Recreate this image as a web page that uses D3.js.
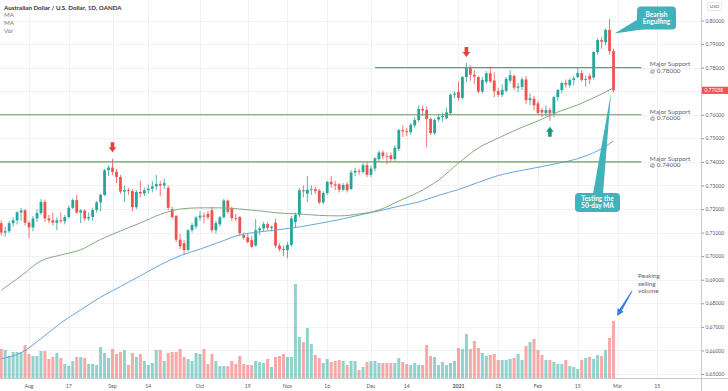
<!DOCTYPE html>
<html>
<head>
<meta charset="utf-8">
<script src="https://cdn.jsdelivr.net/npm/d3@7"></script>
<style>
  body { margin: 0; background: #fff; }
  svg { display: block; font-family: Lato, "Open Sans", sans-serif; }
</style>
</head>
<body>
<div id="chart"></div>
<script>
// ---- data (AUD/USD daily, OANDA) ----
var dates = [
  "2020-07-23","2020-07-24","2020-07-27","2020-07-28","2020-07-29","2020-07-30","2020-07-31",
  "2020-08-03","2020-08-04","2020-08-05","2020-08-06","2020-08-07",
  "2020-08-10","2020-08-11","2020-08-12","2020-08-13","2020-08-14",
  "2020-08-17","2020-08-18","2020-08-19","2020-08-20","2020-08-21",
  "2020-08-24","2020-08-25","2020-08-26","2020-08-27","2020-08-28",
  "2020-08-31","2020-09-01","2020-09-02","2020-09-03","2020-09-04",
  "2020-09-07","2020-09-08","2020-09-09","2020-09-10","2020-09-11",
  "2020-09-14","2020-09-15","2020-09-16","2020-09-17","2020-09-18",
  "2020-09-21","2020-09-22","2020-09-23","2020-09-24","2020-09-25",
  "2020-09-28","2020-09-29","2020-09-30","2020-10-01","2020-10-02",
  "2020-10-05","2020-10-06","2020-10-07","2020-10-08","2020-10-09",
  "2020-10-12","2020-10-13","2020-10-14","2020-10-15","2020-10-16",
  "2020-10-19","2020-10-20","2020-10-21","2020-10-22","2020-10-23",
  "2020-10-26","2020-10-27","2020-10-28","2020-10-29","2020-10-30",
  "2020-11-02","2020-11-03","2020-11-04","2020-11-05","2020-11-06",
  "2020-11-09","2020-11-10","2020-11-11","2020-11-12","2020-11-13",
  "2020-11-16","2020-11-17","2020-11-18","2020-11-19","2020-11-20",
  "2020-11-23","2020-11-24","2020-11-25","2020-11-26","2020-11-27",
  "2020-11-30","2020-12-01","2020-12-02","2020-12-03","2020-12-04",
  "2020-12-07","2020-12-08","2020-12-09","2020-12-10","2020-12-11",
  "2020-12-14","2020-12-15","2020-12-16","2020-12-17","2020-12-18",
  "2020-12-21","2020-12-22","2020-12-23","2020-12-24",
  "2020-12-28","2020-12-29","2020-12-30","2020-12-31",
  "2021-01-04","2021-01-05","2021-01-06","2021-01-07","2021-01-08",
  "2021-01-11","2021-01-12","2021-01-13","2021-01-14","2021-01-15",
  "2021-01-18","2021-01-19","2021-01-20","2021-01-21","2021-01-22",
  "2021-01-25","2021-01-26","2021-01-27","2021-01-28","2021-01-29",
  "2021-02-01","2021-02-02","2021-02-03","2021-02-04","2021-02-05",
  "2021-02-08","2021-02-09","2021-02-10","2021-02-11","2021-02-12",
  "2021-02-15","2021-02-16","2021-02-17","2021-02-18","2021-02-19",
  "2021-02-22","2021-02-23","2021-02-24","2021-02-25","2021-02-26"
];

var open = [
  0.7140,0.7100,0.7106,0.7140,0.7152,0.7186,0.7194,
  0.7142,0.7122,0.7160,0.7183,0.7230,
  0.7160,0.7152,0.7142,0.7152,0.7148,
  0.7166,0.7205,0.7238,0.7185,0.7194,
  0.7160,0.7166,0.7196,0.7228,0.7260,
  0.7365,0.7376,0.7358,0.7336,0.7274,
  0.7280,0.7276,0.7208,0.7272,0.7266,
  0.7280,0.7286,0.7296,0.7306,0.7300,
  0.7290,0.7200,0.7170,0.7070,0.7055,
  0.7026,0.7110,0.7126,0.7164,0.7172,
  0.7180,0.7195,0.7110,0.7135,0.7165,
  0.7236,0.7205,0.7162,0.7166,0.7090,
  0.7080,0.7068,0.7045,0.7110,0.7118,
  0.7136,0.7120,0.7142,0.7045,0.7030,
  0.7026,0.7048,0.7145,0.7175,0.7280,
  0.7265,0.7282,0.7284,0.7278,0.7228,
  0.7268,0.7315,0.7305,0.7305,0.7282,
  0.7305,0.7285,0.7355,0.7362,0.7358,
  0.7386,0.7345,0.7372,0.7412,0.7440,
  0.7425,0.7428,0.7412,0.7455,0.7535,
  0.7530,0.7526,0.7555,0.7578,0.7625,
  0.7620,0.7582,0.7522,0.7580,
  0.7590,0.7585,0.7607,0.7685,
  0.7697,0.7672,0.7760,0.7798,0.7770,
  0.7760,0.7698,0.7740,0.7776,0.7745,
  0.7700,0.7685,0.7702,0.7745,0.7765,
  0.7715,0.7718,0.7750,0.7662,0.7668,
  0.7648,0.7620,0.7608,0.7620,0.7606,
  0.7675,0.7705,0.7735,0.7725,0.7748,
  0.7760,0.7777,0.7748,0.7765,0.7758,
  0.7866,0.7917,0.7908,0.7960,0.7870
];

var high = [
  0.7152,0.7125,0.7150,0.7165,0.7190,0.7205,0.7200,
  0.7150,0.7170,0.7200,0.7242,0.7240,
  0.7175,0.7185,0.7165,0.7185,0.7175,
  0.7215,0.7245,0.7260,0.7200,0.7198,
  0.7185,0.7205,0.7235,0.7265,0.7370,
  0.7385,0.7413,0.7370,0.7345,0.7300,
  0.7290,0.7285,0.7280,0.7320,0.7290,
  0.7305,0.7320,0.7345,0.7320,0.7330,
  0.7300,0.7210,0.7175,0.7095,0.7068,
  0.7115,0.7140,0.7170,0.7190,0.7185,
  0.7192,0.7209,0.7150,0.7170,0.7243,
  0.7240,0.7210,0.7180,0.7170,0.7100,
  0.7095,0.7085,0.7158,0.7125,0.7145,
  0.7145,0.7130,0.7158,0.7055,0.7045,
  0.7060,0.7170,0.7185,0.7290,0.7300,
  0.7340,0.7300,0.7295,0.7285,0.7275,
  0.7320,0.7340,0.7320,0.7310,0.7310,
  0.7315,0.7365,0.7375,0.7370,0.7395,
  0.7400,0.7385,0.7420,0.7448,0.7450,
  0.7440,0.7440,0.7470,0.7540,0.7555,
  0.7545,0.7565,0.7590,0.7640,0.7640,
  0.7635,0.7590,0.7585,0.7605,
  0.7610,0.7630,0.7690,0.7700,
  0.7742,0.7765,0.7820,0.7810,0.7790,
  0.7765,0.7760,0.7785,0.7805,0.7780,
  0.7715,0.7730,0.7760,0.7790,0.7770,
  0.7735,0.7760,0.7765,0.7690,0.7680,
  0.7660,0.7630,0.7640,0.7630,0.7680,
  0.7710,0.7740,0.7750,0.7755,0.7765,
  0.7800,0.7790,0.7765,0.7775,0.7870,
  0.7925,0.7930,0.7965,0.8007,0.7880
];

var low = [
  0.7088,0.7082,0.7098,0.7125,0.7135,0.7150,0.7130,
  0.7076,0.7105,0.7145,0.7175,0.7145,
  0.7140,0.7130,0.7110,0.7140,0.7135,
  0.7160,0.7200,0.7180,0.7140,0.7150,
  0.7150,0.7150,0.7185,0.7190,0.7255,
  0.7340,0.7345,0.7310,0.7265,0.7230,
  0.7260,0.7190,0.7200,0.7250,0.7255,
  0.7265,0.7270,0.7280,0.7255,0.7285,
  0.7195,0.7160,0.7060,0.7030,0.7005,
  0.7020,0.7100,0.7115,0.7150,0.7140,
  0.7155,0.7100,0.7095,0.7125,0.7160,
  0.7180,0.7150,0.7150,0.7085,0.7070,
  0.7055,0.7035,0.7040,0.7090,0.7105,
  0.7110,0.7105,0.7035,0.7020,0.7000,
  0.6991,0.7040,0.7120,0.7165,0.7250,
  0.7230,0.7260,0.7265,0.7220,0.7220,
  0.7260,0.7290,0.7280,0.7270,0.7275,
  0.7270,0.7280,0.7340,0.7345,0.7350,
  0.7335,0.7335,0.7360,0.7400,0.7410,
  0.7390,0.7400,0.7405,0.7445,0.7505,
  0.7510,0.7515,0.7545,0.7570,0.7595,
  0.7462,0.7515,0.7515,0.7570,
  0.7570,0.7580,0.7600,0.7670,
  0.7660,0.7665,0.7740,0.7745,0.7730,
  0.7690,0.7690,0.7730,0.7735,0.7675,
  0.7675,0.7675,0.7695,0.7735,0.7705,
  0.7695,0.7705,0.7645,0.7640,0.7620,
  0.7600,0.7590,0.7595,0.7575,0.7590,
  0.7660,0.7690,0.7715,0.7715,0.7725,
  0.7755,0.7740,0.7720,0.7730,0.7750,
  0.7855,0.7880,0.7895,0.7855,0.7695
];

var close = [
  0.7100,0.7106,0.7140,0.7152,0.7186,0.7194,0.7142,
  0.7122,0.7160,0.7183,0.7230,0.7160,
  0.7152,0.7142,0.7152,0.7148,0.7166,
  0.7205,0.7238,0.7185,0.7194,0.7160,
  0.7166,0.7196,0.7228,0.7260,0.7365,
  0.7376,0.7358,0.7336,0.7274,0.7280,
  0.7276,0.7208,0.7272,0.7266,0.7280,
  0.7286,0.7296,0.7306,0.7300,0.7310,
  0.7205,0.7166,0.7070,0.7042,0.7026,
  0.7110,0.7132,0.7164,0.7172,0.7168,
  0.7165,0.7110,0.7140,0.7165,0.7236,
  0.7188,0.7162,0.7158,0.7098,0.7078,
  0.7060,0.7040,0.7110,0.7118,0.7136,
  0.7120,0.7125,0.7045,0.7030,0.7026,
  0.7048,0.7160,0.7175,0.7280,0.7275,
  0.7282,0.7284,0.7276,0.7228,0.7268,
  0.7315,0.7305,0.7300,0.7282,0.7302,
  0.7280,0.7355,0.7362,0.7358,0.7386,
  0.7345,0.7372,0.7415,0.7440,0.7425,
  0.7422,0.7412,0.7460,0.7535,0.7530,
  0.7526,0.7557,0.7578,0.7625,0.7618,
  0.7582,0.7522,0.7578,0.7590,
  0.7595,0.7610,0.7685,0.7690,
  0.7672,0.7760,0.7798,0.7770,0.7762,
  0.7698,0.7748,0.7776,0.7742,0.7700,
  0.7685,0.7706,0.7752,0.7768,0.7715,
  0.7720,0.7750,0.7662,0.7670,0.7640,
  0.7608,0.7610,0.7620,0.7606,0.7675,
  0.7705,0.7735,0.7728,0.7748,0.7755,
  0.7777,0.7748,0.7752,0.7750,0.7866,
  0.7917,0.7910,0.7960,0.7870,0.77038
];

// volume (thousand ticks)
var volume = [
  29,28,22,26,26,26,33,
  24,22,22,27,27,
  19,21,25,20,14,
  12,17,21,21,20,
  14,14,13,31,25,
  20,29,24,26,28,
  13,25,21,24,17,
  13,15,28,28,17,
  25,26,26,29,21,
  19,17,25,24,29,
  14,24,17,12,12,
  12,17,14,22,14,
  13,13,17,16,15,
  19,11,21,22,24,
  21,21,94,41,36,
  50,34,23,20,15,
  19,16,17,18,17,
  13,17,17,8,11,
  16,17,17,15,15,
  15,15,15,20,16,
  14,13,15,13,13,
  33,22,21,13,
  16,13,15,17,
  30,29,44,29,37,
  30,25,22,23,24,
  18,18,18,19,20,
  24,18,32,36,39,
  28,23,18,18,16,
  14,14,18,12,11,
  9,18,20,21,19,
  23,22,28,40,57
];

var maIndex = [0,5,10,15,20,25,30,35,40,45,50,55,60,65,70,75,80,85,90,95,100,105,110,115,120,125,130,135,140,145,150,154];
var ma50 = [0.6855,0.6916,0.6980,0.7005,0.7027,0.7071,0.7107,0.7141,0.7177,0.7200,0.7205,0.7205,0.7200,0.7192,0.7183,0.7179,
            0.7173,0.7171,0.7179,0.7196,0.7234,0.7272,0.7323,0.7395,0.7459,0.7501,0.7540,0.7574,0.7612,0.7642,0.7680,0.7714];
var ma100 = [0.6565,0.6590,0.6650,0.6717,0.6772,0.6826,0.6871,0.6917,0.6963,0.7002,0.7030,0.7060,0.7090,0.7103,0.7113,0.7124,
             0.7139,0.7155,0.7174,0.7192,0.7212,0.7230,0.7258,0.7283,0.7313,0.7342,0.7361,0.7377,0.7394,0.7414,0.7447,0.7489];

var priceTicks = [0.65,0.66,0.67,0.68,0.69,0.70,0.71,0.72,0.73,0.74,0.75,0.76,0.77,0.78,0.79,0.80];
var timeTicks = [
  ["2020-08-03","Aug"],["2020-08-17","17"],["2020-09-01","Sep"],["2020-09-14","14"],
  ["2020-10-01","Oct"],["2020-10-19","19"],["2020-11-02","Nov"],["2020-11-16","16"],
  ["2020-12-01","Dec"],["2020-12-14","14"],["2021-01-04","2021"],["2021-01-18","18"],
  ["2021-02-01","Feb"],["2021-02-15","15"],["2021-03-01","Mar"],["2021-03-15","15"]
];

var supports = [
  {level: 0.78, from: "2020-12-02", to: "2021-03-09"},
  {level: 0.76, from: null, to: "2021-03-09"},
  {level: 0.74, from: null, to: "2021-03-09"}
];

// ---- layout ----
var W = 728, H = 391,
    plotRight = 701, plotBottom = 378,
    upColor = "#26a69a", downColor = "#ef5350",
    textGrey = "#5a6470";

// bar index for a date; dates after the last bar count forward in weekdays
function barIndex(s) {
  var i = dates.indexOf(s);
  if (i >= 0) return i;
  var d = new Date(dates[dates.length - 1] + "T00:00:00Z"),
      t = new Date(s + "T00:00:00Z"),
      n = dates.length - 1;
  while (d < t) {
    d.setUTCDate(d.getUTCDate() + 1);
    var wd = d.getUTCDay();
    if (wd !== 0 && wd !== 6) n++;
  }
  return n;
}

var x = d3.scaleLinear().domain([-0.3, 176]).range([0, plotRight]);
var y = d3.scaleLinear().domain([0.6483, 0.8087]).range([plotBottom, 0]);
var yVol = d3.scaleLinear().domain([0, 94]).range([plotBottom, plotBottom - 94]);

var bars = dates.map(function(d, i) {
  return {i: i, date: d, o: open[i], h: high[i], l: low[i], c: close[i], v: volume[i]};
});

var svg = d3.select("#chart").append("svg")
    .attr("width", W)
    .attr("height", H);

svg.append("rect").attr("width", W).attr("height", H).attr("fill", "#fff");

// grid
var grid = svg.append("g").attr("stroke", "#f0f2f7").attr("stroke-width", 1);
grid.selectAll(".hg").data(priceTicks).enter().append("line")
    .attr("x1", 0).attr("x2", plotRight)
    .attr("y1", function(d) { return Math.round(y(d)) + 0.5; })
    .attr("y2", function(d) { return Math.round(y(d)) + 0.5; });
grid.selectAll(".vg").data(timeTicks).enter().append("line")
    .attr("x1", function(d) { return Math.round(x(barIndex(d[0]))) + 0.5; })
    .attr("x2", function(d) { return Math.round(x(barIndex(d[0]))) + 0.5; })
    .attr("y1", 0).attr("y2", plotBottom);

// volume
svg.append("g").selectAll("rect").data(bars).enter().append("rect")
    .attr("x", function(d) { return x(d.i) - 1.5; })
    .attr("width", 3)
    .attr("y", function(d) { return yVol(d.v); })
    .attr("height", function(d) { return plotBottom - yVol(d.v); })
    .attr("fill", function(d) { return d.c >= d.o ? upColor : downColor; })
    .attr("fill-opacity", 0.5);

// candles
var candle = svg.append("g").selectAll("g").data(bars).enter().append("g")
    .attr("fill", function(d) { return d.c >= d.o ? upColor : downColor; })
    .attr("stroke", function(d) { return d.c >= d.o ? upColor : downColor; });

candle.append("line")
    .attr("x1", function(d) { return x(d.i); })
    .attr("x2", function(d) { return x(d.i); })
    .attr("y1", function(d) { return y(d.h); })
    .attr("y2", function(d) { return y(d.l); })
    .attr("stroke-width", 0.8);

candle.append("rect")
    .attr("stroke", "none")
    .attr("x", function(d) { return x(d.i) - 1.4; })
    .attr("width", 2.8)
    .attr("y", function(d) { return y(Math.max(d.o, d.c)); })
    .attr("height", function(d) { return Math.max(0.8, Math.abs(y(d.o) - y(d.c))); });

// moving averages
var maLine = d3.line()
    .x(function(d) { return x(d[0]); })
    .y(function(d) { return y(d[1]); })
    .curve(d3.curveMonotoneX);

svg.append("path")
    .attr("d", maLine(maIndex.map(function(k, j) { return [k, ma100[j]]; })))
    .attr("fill", "none").attr("stroke", "#64a8dc").attr("stroke-width", 1);

svg.append("path")
    .attr("d", maLine(maIndex.map(function(k, j) { return [k, ma50[j]]; })))
    .attr("fill", "none").attr("stroke", "#86a97e").attr("stroke-width", 1);

// support levels
var sup = svg.append("g").selectAll("g").data(supports).enter().append("g");
sup.append("line")
    .attr("x1", function(d) { return d.from ? x(barIndex(d.from)) : 0; })
    .attr("x2", function(d) { return x(barIndex(d.to)); })
    .attr("y1", function(d) { return y(d.level); })
    .attr("y2", function(d) { return y(d.level); })
    .attr("stroke", "#6d9c58").attr("stroke-width", 1.1);
sup.append("text")
    .attr("x", function(d) { return x(barIndex(d.to)) + 8.5; })
    .attr("y", function(d) { return y(d.level) - 3.5; })
    .attr("dy", "0.35em")
    .attr("font-size", 6.4).attr("fill", textGrey)
    .text("Major Support");
sup.append("text")
    .attr("x", function(d) { return x(barIndex(d.to)) + 8.5; })
    .attr("y", function(d) { return y(d.level) + 3; })
    .attr("dy", "0.35em")
    .attr("font-size", 6.4).attr("fill", textGrey)
    .text(function(d) { return "@ " + d3.format(".5f")(d.level); });

// axes
svg.append("line")
    .attr("x1", plotRight + 0.5).attr("x2", plotRight + 0.5)
    .attr("y1", 0).attr("y2", H)
    .attr("stroke", "#c8cbd2");
svg.append("line")
    .attr("x1", 0).attr("x2", W)
    .attr("y1", plotBottom + 0.5).attr("y2", plotBottom + 0.5)
    .attr("stroke", "#c8cbd2");

var yAxis = d3.axisRight(y)
    .tickValues(priceTicks)
    .tickFormat(d3.format(".5f"))
    .tickSize(2.5)
    .tickPadding(1.5);
var ya = svg.append("g")
    .attr("transform", "translate(" + (plotRight + 0.5) + ",0)")
    .call(yAxis);
ya.select(".domain").remove();
ya.selectAll("line").attr("stroke", "#9598a1");
ya.selectAll("text").attr("font-size", 5).attr("fill", "#555a63").attr("font-family", "Lato, sans-serif");

svg.append("g").selectAll("text").data(timeTicks).enter().append("text")
    .attr("x", function(d) { return x(barIndex(d[0])); })
    .attr("y", 386)
    .attr("dy", "0.35em")
    .attr("text-anchor", "middle")
    .attr("font-size", 5.2)
    .attr("font-weight", function(d) { return d[1] === "2021" ? 700 : 400; })
    .attr("fill", "#555a63")
    .text(function(d) { return d[1]; });

// currency tag and last price tag
svg.append("rect").attr("x", 707.5).attr("y", 2.5).attr("width", 14).attr("height", 8)
    .attr("rx", 1).attr("fill", "#fff").attr("stroke", "#d6d8de").attr("stroke-width", 0.6);
svg.append("text").attr("x", 714.5).attr("y", 6.5).attr("dy", "0.35em")
    .attr("text-anchor", "middle").attr("font-size", 4.6).attr("fill", "#555a63").text("USD");

var last = bars[bars.length - 1];
svg.append("rect").attr("x", plotRight + 1).attr("y", y(last.c) - 3.6)
    .attr("width", W - plotRight - 1).attr("height", 7.2).attr("fill", downColor);
svg.append("text").attr("x", plotRight + 3.5).attr("y", y(last.c)).attr("dy", "0.35em")
    .attr("font-size", 5).attr("fill", "#fff").text(d3.format(".5f")(last.c));

// legend
var legend = svg.append("g").attr("font-size", 6.2);
legend.append("text").attr("x", 4).attr("y", 7.5).attr("dy", "0.35em")
    .attr("fill", "#333").attr("font-weight", 700)
    .text("Australian Dollar / U.S. Dollar, 1D, OANDA");
["MA", "MA", "Vol"].forEach(function(t, j) {
  legend.append("text").attr("x", 4).attr("y", 15.3 + j * 8).attr("dy", "0.35em")
      .attr("fill", "#777").text(t);
});

// ---- annotations ----
function downArrow(k, price, color) {
  var cx = x(k), b = y(price) - 6;
  svg.append("path")
      .attr("d", "M" + (cx - 1.8) + "," + (b - 10) + "H" + (cx + 1.8) + "V" + (b - 5) +
                 "H" + (cx + 3.8) + "L" + cx + "," + b + "L" + (cx - 3.8) + "," + (b - 5) +
                 "H" + (cx - 1.8) + "Z")
      .attr("fill", color);
}
function upArrow(k, price, color) {
  var cx = x(k), t = y(price) + 6;
  svg.append("path")
      .attr("d", "M" + cx + "," + t + "L" + (cx + 3.8) + "," + (t + 5) + "H" + (cx + 1.8) +
                 "V" + (t + 10) + "H" + (cx - 1.8) + "V" + (t + 5) + "H" + (cx - 3.8) + "Z")
      .attr("fill", color);
}
downArrow(barIndex("2020-09-01"), high[barIndex("2020-09-01")] + 0.0003, "#e5403c");
downArrow(barIndex("2021-01-06"), high[barIndex("2021-01-06")], "#e5403c");
upArrow(barIndex("2021-02-04"), low[barIndex("2021-02-04")], "#12997f");

var calloutColor = "#3fb2bc";
function callout(bx, by, bw, bh, pointer, lines) {
  svg.append("path")
      .attr("d", "M" + pointer.map(function(p) { return p.join(","); }).join("L") + "Z")
      .attr("fill", calloutColor);
  svg.append("rect").attr("x", bx).attr("y", by).attr("width", bw).attr("height", bh)
      .attr("rx", 4).attr("fill", calloutColor);
  lines.forEach(function(t, j) {
    svg.append("text")
        .attr("x", bx + bw / 2)
        .attr("y", by + bh / 2 + (j - (lines.length - 1) / 2) * 7)
        .attr("dy", "0.35em")
        .attr("text-anchor", "middle")
        .attr("font-size", 6.6).attr("font-weight", 700).attr("fill", "#fff")
        .text(t);
  });
}

var kLast = bars.length - 1;
callout(637, 6.5, 39, 23,
        [[640, 18], [652, 28], [x(kLast - 1) + 5, y(0.7945)]],
        ["Bearish", "Engulfing"]);
callout(575, 193, 45, 19,
        [[593, 194], [603, 194], [x(kLast) - 2.5, y(0.7693)]],
        ["Testing the", "50-day MA"]);

// volume note and blue arrow
["Peaking", "selling", "volume"].forEach(function(t, j) {
  svg.append("text").attr("x", 638).attr("y", 276 + j * 7.5).attr("dy", "0.35em")
      .attr("font-size", 6.4).attr("fill", textGrey).text(t);
});
(function() {
  var tx = 632, ty = 291,
      px = x(kLast) + 3.5, py = yVol(last.v) - 5,
      dx = px - tx, dy = py - ty, len = Math.sqrt(dx * dx + dy * dy),
      ux = dx / len, uy = dy / len, nx = -uy, ny = ux,
      hb = len - 7;
  var pts = [
    [tx + nx * 0.4, ty + ny * 0.4],
    [tx + ux * hb + nx * 1.4, ty + uy * hb + ny * 1.4],
    [tx + ux * hb + nx * 3.6, ty + uy * hb + ny * 3.6],
    [px, py],
    [tx + ux * hb - nx * 3.6, ty + uy * hb - ny * 3.6],
    [tx + ux * hb - nx * 1.4, ty + uy * hb - ny * 1.4],
    [tx - nx * 0.4, ty - ny * 0.4]
  ];
  svg.append("path")
      .attr("d", "M" + pts.map(function(p) { return p.join(","); }).join("L") + "Z")
      .attr("fill", "#2f80e3");
})();
</script>
</body>
</html>
